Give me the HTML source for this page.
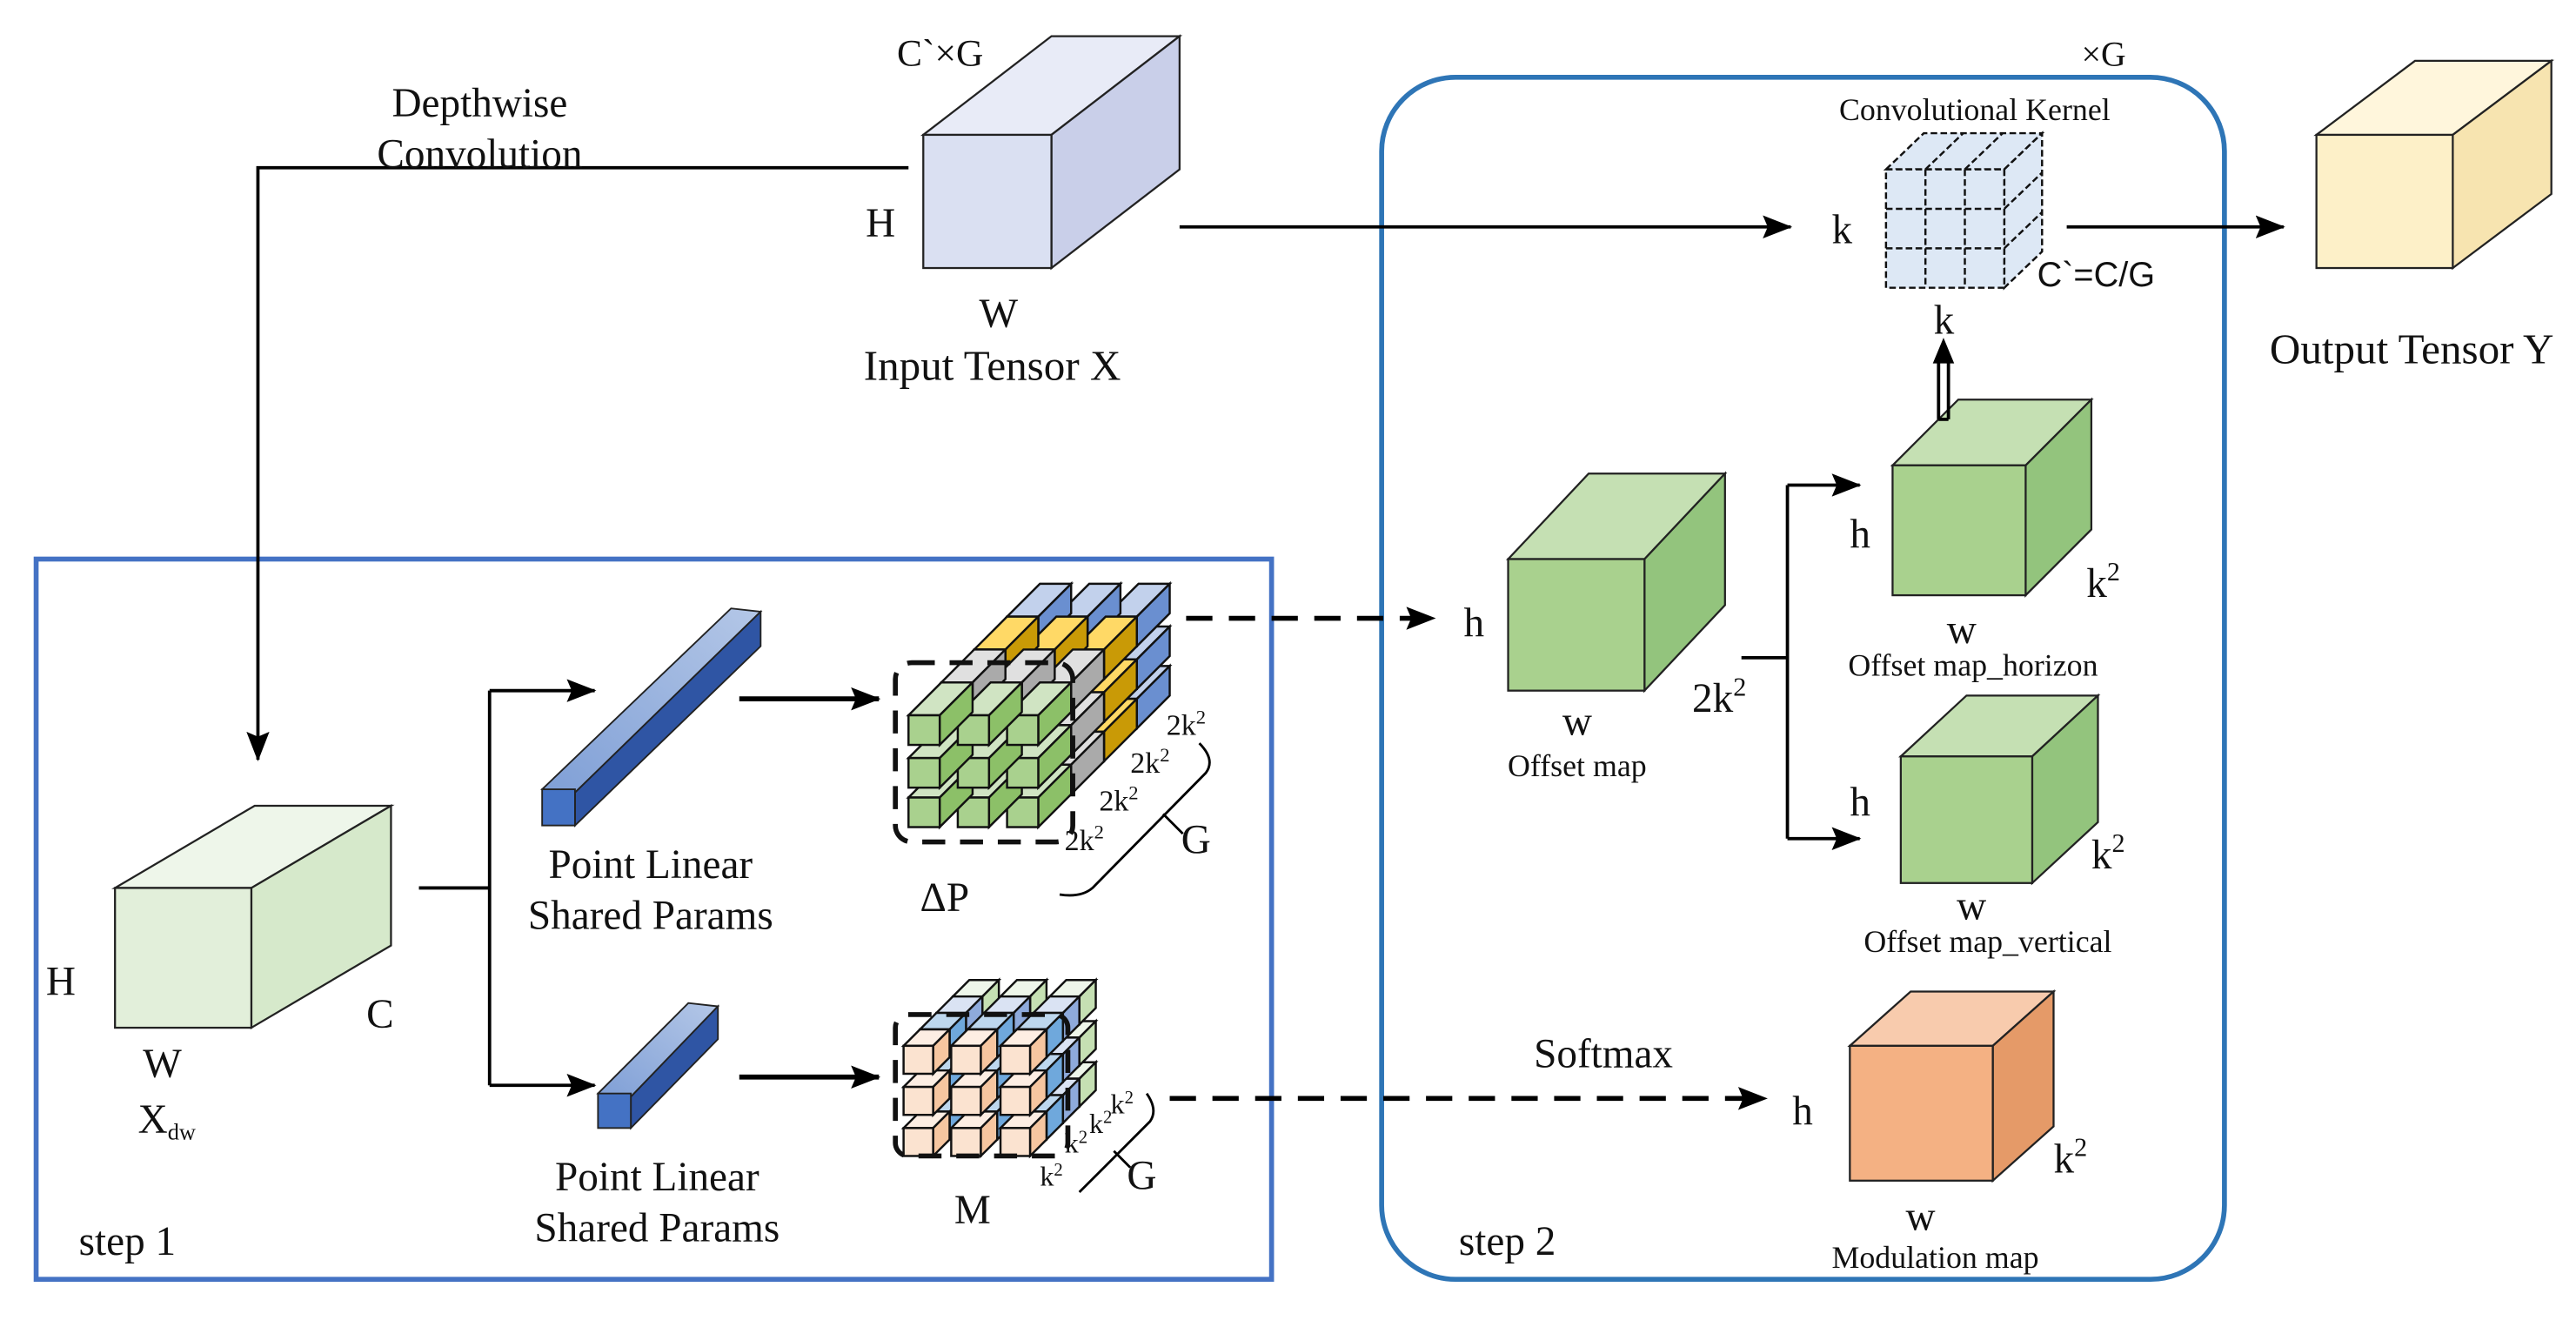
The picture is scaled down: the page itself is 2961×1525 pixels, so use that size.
<!DOCTYPE html>
<html><head><meta charset="utf-8"><style>
html,body{margin:0;padding:0;background:#fff;}
svg{display:block;}
text{font-family:"Liberation Serif",serif;fill:#111;}
.s{font-family:"Liberation Sans",sans-serif;}
</style></head><body>
<svg id="g" width="2961" height="1525" viewBox="0 0 1568 807" preserveAspectRatio="none" xmlns="http://www.w3.org/2000/svg">
<defs>
<marker id="ar2" markerWidth="18" markerHeight="14" refX="17" refY="7" orient="auto" markerUnits="userSpaceOnUse"><path d="M0,0 L18,7 L0,14 L3,7z" fill="#000"/></marker>
<linearGradient id="bar" x1="0" y1="1" x2="1" y2="0"><stop offset="0" stop-color="#7f9fd6"/><stop offset="1" stop-color="#b4c7e7"/></linearGradient>
</defs>
<rect width="1568" height="807" fill="#fff"/>
<rect x="22" y="340" width="752" height="438" fill="none" stroke="#4472c4" stroke-width="3"/>
<rect x="841" y="47" width="513" height="731" rx="45" fill="none" stroke="#2e75b6" stroke-width="3"/>

<g stroke="#222" stroke-width="1.2">
<polygon points="562,82 640,22 718,22 640,82" fill="#e8ebf7"/>
<polygon points="640,82 718,22 718,103 640,163" fill="#c9cfe9"/>
<rect x="562" y="82" width="78" height="81" fill="#dae0f2"/>
</g>
<g stroke="#222" stroke-width="1.2">
<polygon points="1410,82 1470,37 1553,37 1493,82" fill="#fff6dc"/>
<polygon points="1493,82 1553,37 1553,118 1493,163" fill="#f7e4b0"/>
<rect x="1410" y="82" width="83" height="81" fill="#fdf0c8"/>
</g>
<g stroke="#222" stroke-width="1.2">
<polygon points="70,540 155,490 238,490 153,540" fill="#eef6ea"/>
<polygon points="153,540 238,490 238,575 153,625" fill="#d6e9cb"/>
<rect x="70" y="540" width="83" height="85" fill="#e2efda"/>
</g>
<g stroke="#222" stroke-width="1.2">
<polygon points="918,340 967,288 1050,288 1001,340" fill="#c5e0b3"/>
<polygon points="1001,340 1050,288 1050,368 1001,420" fill="#93c47d"/>
<rect x="918" y="340" width="83" height="80" fill="#a9d18e"/>
</g>
<g stroke="#222" stroke-width="1.2">
<polygon points="1152,283 1192,243 1273,243 1233,283" fill="#c5e0b3"/>
<polygon points="1233,283 1273,243 1273,322 1233,362" fill="#93c47d"/>
<rect x="1152" y="283" width="81" height="79" fill="#a9d18e"/>
</g>
<g stroke="#222" stroke-width="1.2">
<polygon points="1157,460 1197,423 1277,423 1237,460" fill="#c5e0b3"/>
<polygon points="1237,460 1277,423 1277,500 1237,537" fill="#93c47d"/>
<rect x="1157" y="460" width="80" height="77" fill="#a9d18e"/>
</g>
<g stroke="#222" stroke-width="1.2">
<polygon points="1126,636 1163,603 1250,603 1213,636" fill="#f8cbad"/>
<polygon points="1213,636 1250,603 1250,685 1213,718" fill="#e59a68"/>
<rect x="1126" y="636" width="87" height="82" fill="#f4b183"/>
</g>
<g stroke="#111" stroke-width="1.3" stroke-dasharray="4,2" fill="#dde8f5">
<polygon points="1148,103 1171,81 1243,81 1220,103"/>
<polygon points="1220,103 1243,81 1243,153 1220,175"/>
<rect x="1148" y="103" width="72" height="72"/>
<line x1="1172" y1="103" x2="1172" y2="175"/><line x1="1196" y1="103" x2="1196" y2="175"/>
<line x1="1148" y1="127" x2="1220" y2="127"/><line x1="1148" y1="151" x2="1220" y2="151"/>
<line x1="1172" y1="103" x2="1195" y2="81"/><line x1="1196" y1="103" x2="1219" y2="81"/>
<line x1="1220" y1="127" x2="1243" y2="105"/><line x1="1220" y1="151" x2="1243" y2="129"/>
</g>
<g stroke="#222" stroke-width="1">
<polygon points="330,480 445,370 463,372 350,482" fill="url(#bar)"/>
<polygon points="350,482 463,372 463,393 350,502" fill="#2f55a4"/>
<rect x="330" y="480" width="20" height="22" fill="#4472c4"/>
<polygon points="364,665 419,610 437,612 384,667" fill="url(#bar)"/>
<polygon points="384,667 437,612 437,632 384,686" fill="#2f55a4"/>
<rect x="364" y="665" width="20" height="21" fill="#4472c4"/>
</g>
<g id="grids"></g>
<rect x="545" y="403" width="108" height="109" rx="10" fill="none" stroke="#111" stroke-width="3" stroke-dasharray="14,9"/>
<rect x="545" y="617" width="105" height="86" rx="8" fill="none" stroke="#111" stroke-width="3" stroke-dasharray="14,9"/>

<g stroke="#000" stroke-width="2" fill="none">
<polyline points="553,102 157,102 157,462" marker-end="url(#ar2)"/>
<line x1="718" y1="138" x2="1090" y2="138" marker-end="url(#ar2)"/>
<line x1="1258" y1="138" x2="1390" y2="138" marker-end="url(#ar2)"/>
<polyline points="255,540 298,540"/>
<line x1="298" y1="420" x2="298" y2="660"/>
<line x1="298" y1="420" x2="362" y2="420" marker-end="url(#ar2)"/>
<line x1="298" y1="660" x2="362" y2="660" marker-end="url(#ar2)"/>
<line x1="450" y1="425" x2="535" y2="425" stroke-width="3" marker-end="url(#ar2)"/>
<line x1="450" y1="655" x2="535" y2="655" stroke-width="3" marker-end="url(#ar2)"/>
<line x1="722" y1="376" x2="873" y2="376" stroke-width="3" stroke-dasharray="16,10" marker-end="url(#ar2)"/>
<line x1="712" y1="668" x2="1075" y2="668" stroke-width="3" stroke-dasharray="16,10" marker-end="url(#ar2)"/>
<line x1="1060" y1="400" x2="1088" y2="400"/>
<line x1="1088" y1="295" x2="1088" y2="510"/>
<line x1="1088" y1="295" x2="1132" y2="295" marker-end="url(#ar2)"/>
<line x1="1088" y1="510" x2="1132" y2="510" marker-end="url(#ar2)"/>
<line x1="1180" y1="255" x2="1180" y2="220"/><line x1="1186" y1="255" x2="1186" y2="220"/>
<line x1="1180" y1="255" x2="1186" y2="255"/>
<path d="M1178,220 L1183,208 L1188,220z" fill="#000"/>
<path d="M730,452 Q740,462 734,470 L665,540 Q658,546 645,544" stroke-width="1.5"/>
<line x1="708" y1="495" x2="720" y2="507" stroke-width="1.5"/>
<path d="M698,665 Q705,675 700,682 L657,725" stroke-width="1.5"/>
<line x1="678" y1="700" x2="688" y2="710" stroke-width="1.5"/>
</g>

<g font-size="25">
<text x="292" y="71" text-anchor="middle">Depthwise</text>
<text x="292" y="102" text-anchor="middle">Convolution</text>
<text x="546" y="40" font-size="23">C`×G</text>
<text x="527" y="144">H</text>
<text x="596" y="199">W</text>
<text x="604" y="231" text-anchor="middle" font-size="26">Input Tensor X</text>
<text x="1267" y="40" font-size="21">×G</text>
<text x="1202" y="73" text-anchor="middle" font-size="19">Convolutional Kernel</text>
<text x="1115" y="148">k</text>
<text class="s" x="1240" y="174" font-size="21">C`=C/G</text>
<text x="1177" y="203">k</text>
<text x="1468" y="221" text-anchor="middle" font-size="26">Output Tensor Y</text>
<text x="891" y="387">h</text>
<text x="951" y="447">w</text>
<text x="960" y="472" text-anchor="middle" font-size="19">Offset map</text>
<text x="1030" y="433">2k<tspan font-size="16" dy="-10">2</tspan></text>
<text x="1126" y="333">h</text>
<text x="1270" y="363">k<tspan font-size="16" dy="-10">2</tspan></text>
<text x="1185" y="391">w</text>
<text x="1201" y="411" text-anchor="middle" font-size="19">Offset map_horizon</text>
<text x="1126" y="496">h</text>
<text x="1273" y="528">k<tspan font-size="16" dy="-10">2</tspan></text>
<text x="1191" y="559">w</text>
<text x="1210" y="579" text-anchor="middle" font-size="19">Offset map_vertical</text>
<text x="976" y="649" text-anchor="middle">Softmax</text>
<text x="1091" y="684">h</text>
<text x="1250" y="713">k<tspan font-size="16" dy="-10">2</tspan></text>
<text x="1160" y="748">w</text>
<text x="1178" y="771" text-anchor="middle" font-size="19">Modulation map</text>
<text x="888" y="763">step 2</text>
<text x="48" y="763">step 1</text>
<text x="28" y="605">H</text>
<text x="223" y="625">C</text>
<text x="87" y="655">W</text>
<text x="84" y="689">X<tspan font-size="14" dy="4">dw</tspan></text>
<text x="396" y="534" text-anchor="middle">Point Linear</text>
<text x="396" y="565" text-anchor="middle">Shared Params</text>
<text x="400" y="724" text-anchor="middle">Point Linear</text>
<text x="400" y="755" text-anchor="middle">Shared Params</text>
<text x="575" y="554" text-anchor="middle">ΔP</text>
<text x="592" y="744" text-anchor="middle">M</text>
<text x="710" y="447" font-size="18">2k<tspan font-size="12" dy="-7">2</tspan></text>
<text x="688" y="470" font-size="18">2k<tspan font-size="12" dy="-7">2</tspan></text>
<text x="669" y="493" font-size="18">2k<tspan font-size="12" dy="-7">2</tspan></text>
<text x="648" y="517" font-size="18">2k<tspan font-size="12" dy="-7">2</tspan></text>
<text x="719" y="519">G</text>
<text x="676" y="677" font-size="17">k<tspan font-size="11" dy="-6">2</tspan></text>
<text x="663" y="689" font-size="17">k<tspan font-size="11" dy="-6">2</tspan></text>
<text x="648" y="701" font-size="17">k<tspan font-size="11" dy="-6">2</tspan></text>
<text x="633" y="721" font-size="17">k<tspan font-size="11" dy="-6">2</tspan></text>
<text x="686" y="723">G</text>
</g>
</svg>
<script>
(function(){
var g=document.getElementById('grids'),out='';
function cub(x,y,w,h,d,c){
 out+='<polygon points="'+x+','+y+' '+(x+d)+','+(y-d)+' '+(x+w+d)+','+(y-d)+' '+(x+w)+','+y+'" fill="'+c[1]+'"/>';
 out+='<polygon points="'+(x+w)+','+y+' '+(x+w+d)+','+(y-d)+' '+(x+w+d)+','+(y+h-d)+' '+(x+w)+','+(y+h)+'" fill="'+c[2]+'"/>';
 out+='<rect x="'+x+'" y="'+y+'" width="'+w+'" height="'+h+'" fill="'+c[0]+'"/>';
}
function grid(cols,rows,w,h,d,layers){
 for(var L=layers.length-1;L>=0;L--){
  for(var r=rows.length-1;r>=0;r--){
   for(var c=cols.length-1;c>=0;c--){
    cub(cols[c]+L*d,rows[r]-L*d,w,h,d,layers[L]);
 }}}
}
grid([553,583,613],[435,461,485],19,18,20,[
 ['#a9d18e','#d0e4c3','#8cc068'],
 ['#bfbfbf','#e0e0e0','#aaaaaa'],
 ['#ffd966','#ffd966','#c99a06'],
 ['#8faadc','#c2d1ec','#6a8fd0']]);
grid([550,579,609],[636,661,686],18,17,10,[
 ['#fbe3d0','#fdeee3','#f6c6a0'],
 ['#6fa8dc','#bdd7ee','#6fa8dc'],
 ['#8eaadb','#dae3f3','#8eaadb'],
 ['#c5e0b3','#eef6ea','#c5e0b3']]);
g.setAttribute('stroke','#111');g.setAttribute('stroke-width','1.3');
g.innerHTML=out;
})();
</script>
</body></html>
